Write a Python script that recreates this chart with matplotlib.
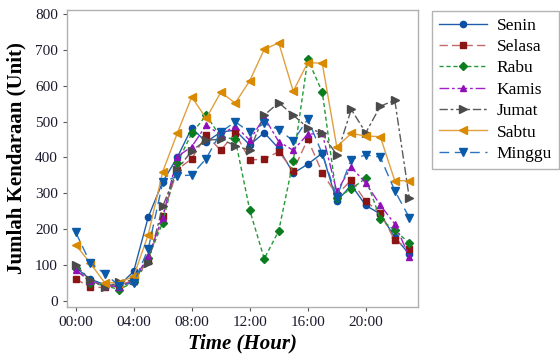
import matplotlib
matplotlib.use("Agg")
import matplotlib.pyplot as plt

hours = list(range(24))
tick_hours = [0, 4, 8, 12, 16, 20]
tick_labels = ["00:00", "04:00", "08:00", "12:00", "16:00", "20:00"]

senin = [92, 60, 45, 42, 82, 233, 332, 400, 482, 443, 471, 476, 435, 469, 425, 356, 381, 412, 277, 323, 266, 242, 177, 130]
selasa = [61, 37, 37, 45, 55, 112, 237, 365, 397, 462, 420, 468, 393, 395, 416, 363, 451, 357, 295, 337, 277, 246, 168, 144]
rabu = [90, 50, 42, 31, 52, 119, 218, 384, 467, 518, 457, 451, 253, 117, 195, 390, 674, 583, 287, 312, 342, 228, 196, 161]
kamis = [85, 55, 42, 39, 55, 125, 232, 402, 430, 490, 463, 488, 448, 512, 444, 420, 465, 467, 305, 373, 328, 267, 214, 123]
jumat = [100, 58, 38, 51, 58, 105, 263, 365, 419, 448, 451, 433, 420, 518, 553, 518, 483, 467, 407, 534, 469, 543, 560, 287]
sabtu = [156, 105, 50, 50, 68, 184, 360, 467, 569, 509, 582, 552, 614, 702, 720, 585, 665, 663, 430, 467, 460, 458, 335, 335]
minggu = [191, 106, 75, 42, 50, 144, 330, 348, 351, 397, 470, 500, 470, 495, 478, 446, 507, 410, 290, 394, 407, 401, 307, 232]

plt.rcParams['font.family'] = ['Liberation Serif', 'DejaVu Serif']

fig = plt.figure(figsize=(5.6, 3.55), dpi=100)
ax = fig.add_axes([0.1196, 0.135, 0.6268, 0.837])

series = [
    ("Senin", senin, dict(color="#1f5fa8", mfc="#0b4ea2", mec="#0b4ea2", ls="-", marker="o", ms=4.5)),
    ("Selasa", selasa, dict(color="#c46a6a", mfc="#8b1414", mec="#8b1414", ls=(0, (6, 3)), marker="s", ms=4.5)),
    ("Rabu", rabu, dict(color="#229a36", mfc="#0c7d1e", mec="#0c7d1e", ls=(0, (3, 2)), marker="D", ms=4.2)),
    ("Kamis", kamis, dict(color="#a020c8", mfc="#9010b8", mec="#9010b8", ls=(0, (7, 2, 2, 2)), marker="^", ms=5)),
    ("Jumat", jumat, dict(color="#5a5a5a", mfc="#4a4a4a", mec="#4a4a4a", ls=(0, (6, 2, 2, 2)), marker=">", ms=5.5)),
    ("Sabtu", sabtu, dict(color="#e0a040", mfc="#d98a00", mec="#d98a00", ls="-", marker="<", ms=5.5)),
    ("Minggu", minggu, dict(color="#2a74c0", mfc="#0a5aaa", mec="#0a5aaa", ls=(0, (7, 4)), marker="v", ms=5.5)),
]

for name, vals, st in series:
    ax.plot(hours, vals, label=name, lw=1.0, **st)

ax.set_xlim(-0.6, 23.6)
ax.set_ylim(-18, 812)
ax.set_xticks(tick_hours)
ax.set_xticklabels(tick_labels)
ax.set_yticks(range(0, 801, 100))
ax.tick_params(axis='both', labelsize=11, colors="#555555", labelcolor="#1a1a2e", length=3, width=0.8)
for sp in ax.spines.values():
    sp.set_color("#b0b0b0")
    sp.set_linewidth(1.0)

ax.set_ylabel("Jumlah Kendaraan (Unit)", fontsize=15, fontweight="bold", labelpad=6)
ax.set_xlabel("Time (Hour)", fontsize=15, fontweight="bold", style="italic", labelpad=3)

leg = fig.legend(loc="upper left", bbox_to_anchor=(0.771, 0.97), borderaxespad=0, fontsize=12.5,
                 frameon=True, fancybox=False, edgecolor="#a0a0a0", handlelength=2.8,
                 labelspacing=0.3, borderpad=0.4, handletextpad=0.55, markerscale=1.0)
leg.get_frame().set_linewidth(1.0)

fig.savefig("out.png", dpi=100)
